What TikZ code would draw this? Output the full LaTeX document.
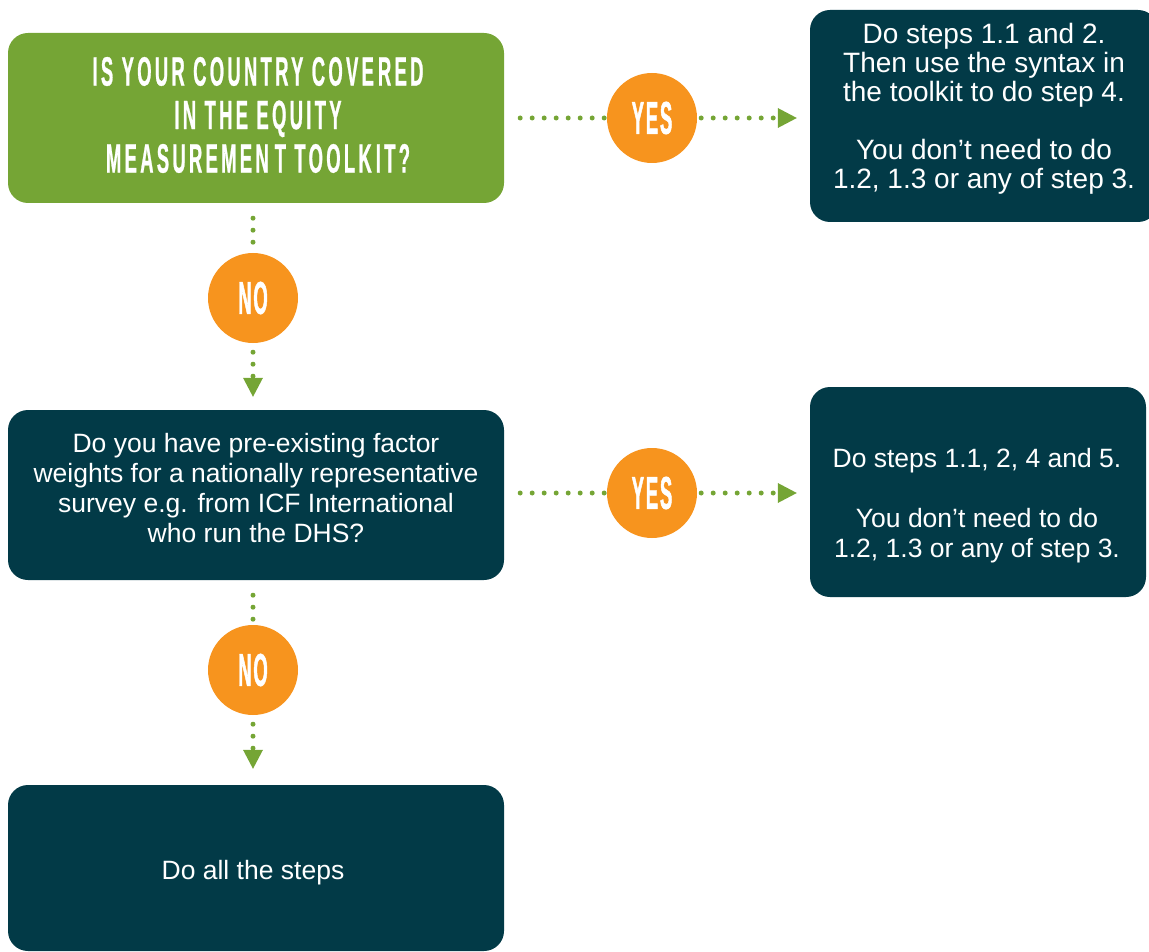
\documentclass[tikz,border=0pt]{standalone}
\usepackage{fontspec}
\setmainfont{Liberation Sans}
\newfontfamily\headfont[FakeStretch=0.45,LetterSpace=8,FakeBold=0.6]{Liberation Sans}
\newfontfamily\circfont[FakeStretch=0.4,LetterSpace=4,FakeBold=1]{Liberation Sans}
\usetikzlibrary{arrows.meta}
\definecolor{fgreen}{HTML}{75A535}
\definecolor{dteal}{HTML}{023A47}
\definecolor{orng}{HTML}{F7941E}
\tikzset{
  qbox/.style={rectangle, rounded corners=20pt, fill=#1, inner sep=0pt},
  boxtext/.style={text=white, align=center, inner sep=0pt, font={\fontsize{26.5}{30}\selectfont}},
  headtext/.style={text=white, align=center, inner sep=0pt, font={\headfont\bfseries\fontsize{41}{43.5}\selectfont}},
  answer/.style={circle, fill=orng, minimum size=90pt, inner sep=0pt, text=white, font={\circfont\bfseries\fontsize{46}{46}\selectfont}},
  dotline/.style={draw=fgreen, line width=5pt, line cap=round, dash pattern=on 0pt off 12pt},
  dotarrow/.style={dotline, -{Triangle[length=19pt,width=20pt,line width=0pt]}},
}
\begin{document}
\begin{tikzpicture}[x=1pt,y=-1pt]
\useasboundingbox (0,0) rectangle (1149,952);
% boxes
\node[qbox=fgreen, minimum width=496pt, minimum height=170pt] (q1) at (256,118) {};
\node[headtext] (q1t) at (258,115) {IS YOUR COUNTRY COVE\kern4pt RED\\IN THE EQUITY\\MEASUREMEN\kern6pt T TOOLK\kern4pt IT?};
\node[qbox=dteal, minimum width=348pt, minimum height=212pt] (r1) at (984,116) {};
\node[boxtext, font={\fontsize{28}{29}\selectfont}] (r1t) at (984,108.5) {Do steps 1.1 and 2.\\Then use the syntax in\\the toolkit to do step 4.\\[29pt]You don’t need to do\\1.2, 1.3 or any of step 3.};
\node[qbox=dteal, minimum width=496pt, minimum height=170pt] (q2) at (256,495) {};
\node[boxtext] (q2t) at (256,488.5) {Do you have pre-existing factor\\weights for a nationally representative\\survey e.g. from ICF International\\who run the DHS?};
\node[qbox=dteal, minimum width=336pt, minimum height=210pt] (r2) at (978,492) {};
\node[boxtext] (r2t) at (977,506) {Do steps 1.1, 2, 4 and 5.\\[30pt]You don’t need to do\\1.2, 1.3 or any of step 3.};
\node[qbox=dteal, minimum width=496pt, minimum height=166pt] (q3) at (256,868) {};
\node[boxtext] (q3t) at (253,873) {Do all the steps};
% answer circles
\node[answer] (yes1) at (652,118) {YES};
\node[answer] (no1) at (253,298) {NO};
\node[answer] (yes2) at (652,493) {YES};
\node[answer] (no2) at (253,670) {NO};
% connectors
\draw[dotline, shorten <=16pt] (q1.east |- yes1) -- (yes1.west);
\draw[dotarrow, shorten <=4pt, shorten >=13pt] (yes1.east) -- (r1.west |- yes1);
\draw[dotline, shorten <=15pt] (q1.south -| no1) -- (no1.north);
\draw[dotarrow, shorten <=9pt, shorten >=13pt] (no1.south) -- (q2.north -| no1);
\draw[dotline, shorten <=16pt] (q2.east |- yes2) -- (yes2.west);
\draw[dotarrow, shorten <=4pt, shorten >=13pt] (yes2.east) -- (r2.west |- yes2);
\draw[dotline, shorten <=15pt] (q2.south -| no2) -- (no2.north);
\draw[dotarrow, shorten <=9pt, shorten >=16pt] (no2.south) -- (q3.north -| no2);
\end{tikzpicture}
\end{document}
